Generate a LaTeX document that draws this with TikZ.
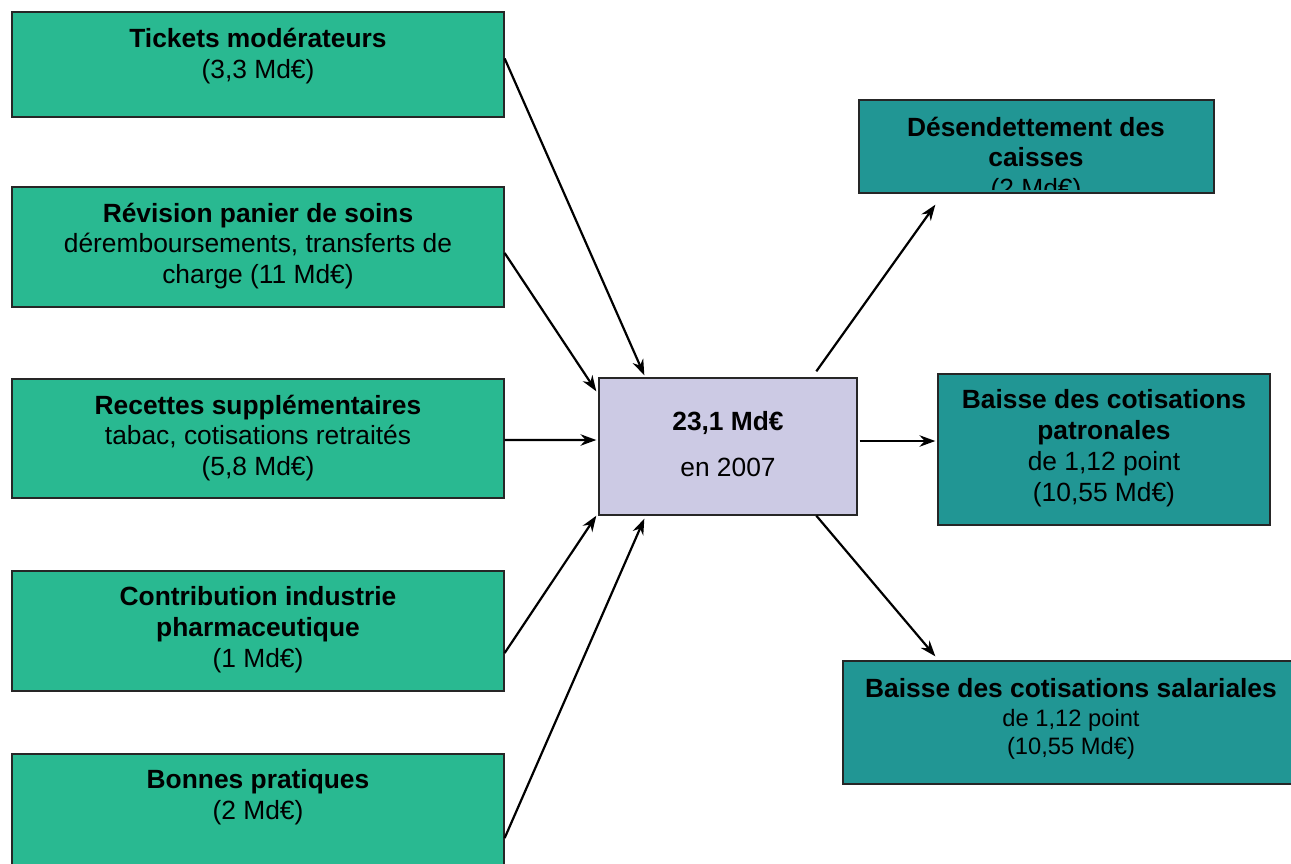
\documentclass[tikz,border=0pt]{standalone}
\usepackage{fontspec}
\setmainfont{Liberation Sans}
\usepackage{tikz}
\usetikzlibrary{positioning,arrows.meta,calc}
\definecolor{sourcecolor}{RGB}{41,185,145}
\definecolor{usecolor}{RGB}{33,150,148}
\definecolor{totalcolor}{RGB}{204,202,228}
\tikzset{
  box/.style={
    rectangle,
    draw=black!85,
    line width=0.8pt,
    inner sep=0pt
  },
  source box/.style={
    box,
    fill=sourcecolor,
    minimum width=9.84cm
  },
  use box/.style={
    box,
    fill=usecolor
  },
  total box/.style={
    box,
    fill=totalcolor,
    minimum width=5.16cm,
    minimum height=2.74cm
  },
  box text/.style={
    align=center,
    inner sep=0pt,
    font=\fontsize{15}{17.6}\selectfont
  },
  arrow/.style={
    ->,
    >={Stealth[length=9pt,width=6.5pt]},
    line width=1.25pt
  }
}

\begin{document}
\begin{tikzpicture}[x=0.02cm, y=-0.02cm]

  \useasboundingbox (0,0) rectangle (1291,863);

  % Sources on the left
  \node[source box, minimum height=2.1cm] (tickets) at (258,64.5) {};
  \node[source box, minimum height=2.4cm] (panier) at (258,247) {};
  \node[source box, minimum height=2.38cm] (recettes) at (258,438.5) {};
  \node[source box, minimum height=2.4cm] (industrie) at (258,631) {};
  \node[source box, minimum height=2.4cm] (pratiques) at (258,814) {};

  \node[box text] (tickets-txt) at (258,56) {\textbf{Tickets modérateurs}\\(3,3 Md€)};
  \node[box text] (panier-txt) at (258,246) {\textbf{Révision panier de soins}\\déremboursements, transferts de\\charge (11 Md€)};
  \node[box text] (recettes-txt) at (258,438) {\textbf{Recettes supplémentaires}\\tabac, cotisations retraités\\(5,8 Md€)};
  \node[box text] (industrie-txt) at (258,630) {\textbf{Contribution industrie}\\\textbf{pharmaceutique}\\(1 Md€)};
  \node[box text] (pratiques-txt) at (258,797.5) {\textbf{Bonnes pratiques}\\(2 Md€)};

  % Total in the middle
  \node[total box] (total) at (728,446.5) {};
  \node[box text] (total-txt) at (728,444) {\textbf{23,1 Md€}\\[8.4pt]en 2007};

  % Uses on the right
  \node[use box, minimum width=7.1cm, minimum height=1.86cm] (desendettement) at (1036.5,146.5) {};
  \node[use box, minimum width=6.64cm, minimum height=3.02cm] (patronales) at (1104,449.5) {};
  \node[use box, minimum width=9.12cm, minimum height=2.46cm] (salariales) at (1071,722.5) {};

  \begin{scope}
    \clip ($(desendettement.north west)+(2,2)$) rectangle ($(desendettement.south east)+(-2,-4)$);
    \node[box text] (desendettement-txt) at (1036,160) {\textbf{Désendettement des}\\\textbf{caisses}\\(2 Md€)};
  \end{scope}
  \node[box text] (patronales-txt) at (1104,448.5) {\textbf{Baisse des cotisations}\\\textbf{patronales}\\de 1,12 point\\(10,55 Md€)};
  \node[box text] (salariales-txt) at (1071,719) {\textbf{Baisse des cotisations salariales}\\[-1.5pt]{\fontsize{13.5}{15.9}\selectfont de 1,12 point}\\[-1.5pt]{\fontsize{13.5}{15.9}\selectfont (10,55 Md€)}};

  % Into the total
  \draw[arrow] ($(tickets.east)+(0,-6)$) -- ($(total.north west)+(46,-2)$);
  \draw[arrow] ($(panier.east)+(0,6)$) -- ($(total.north west)+(-2,14)$);
  \draw[arrow] ($(recettes.east)+(0,1.5)$) -- ($(total.west)+(-2,-6.5)$);
  \draw[arrow] ($(industrie.east)+(0,22)$) -- ($(total.south west)+(-2,0)$);
  \draw[arrow] ($(pratiques.east)+(0,24)$) -- ($(total.south west)+(46,3)$);

  % Out of the total
  \draw[arrow] ($(total.north west)+(218,-6)$) -- ($(desendettement.south west)+(77,11)$);
  \draw[arrow] ($(total.east)+(2,-5.5)$) -- ($(patronales.west)+(-2,-8.5)$);
  \draw[arrow] ($(total.south west)+(218,0)$) -- ($(salariales.north west)+(93,-4)$);

\end{tikzpicture}
\end{document}
